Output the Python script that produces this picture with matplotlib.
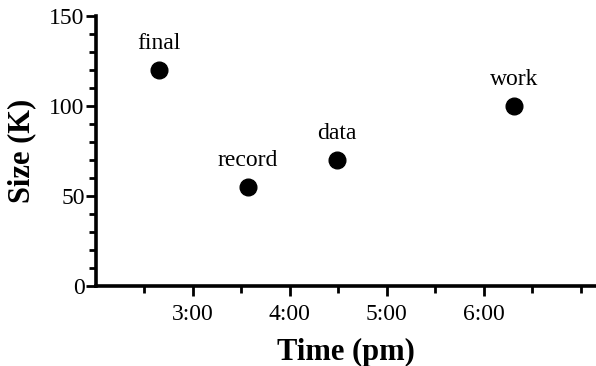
import matplotlib
matplotlib.use("Agg")
import matplotlib.pyplot as plt
from matplotlib.ticker import FixedLocator

names = ["final", "record", "data", "work"]
times_h = [2.65, 3.57, 4.49, 6.31]   # hours pm
sizes_k = [120, 55, 70, 100]
x_major = [3, 4, 5, 6]
x_major_labels = ["3:00", "4:00", "5:00", "6:00"]
x_minor = [2.5, 3.5, 4.5, 5.5, 6.5, 7.0]
y_major = [0, 50, 100, 150]
y_major_labels = ["0", "50", "100", "150"]
y_minor = [10, 20, 30, 40, 60, 70, 80, 90, 110, 120, 130, 140]

plt.rcParams['font.family'] = ['Liberation Serif', 'DejaVu Serif']

fig = plt.figure(figsize=(5.96, 3.66), dpi=100)
ax = fig.add_axes([95.7/596, 80/366, (596-95.7)/596, 270/366])

ax.plot(times_h, sizes_k, 'o', color='black', markersize=12, clip_on=False)
for n, t, s in zip(names, times_h, sizes_k):
    ax.annotate(n, (t, s), xytext=(0, 19), textcoords='offset points',
                ha='center', va='center', fontsize=17)

ax.set_xlim(2, 2 + 500.3/97)
ax.set_ylim(0, 150)
for sp in ['top', 'right']:
    ax.spines[sp].set_visible(False)
for sp in ['left', 'bottom']:
    ax.spines[sp].set_linewidth(2.6)

ax.xaxis.set_major_locator(FixedLocator(x_major))
ax.set_xticklabels(x_major_labels)
ax.xaxis.set_minor_locator(FixedLocator(x_minor))
ax.yaxis.set_major_locator(FixedLocator(y_major))
ax.set_yticklabels(y_major_labels)
ax.yaxis.set_minor_locator(FixedLocator(y_minor))

ax.tick_params(which='major', direction='out', length=7, width=2, labelsize=17, pad=6)
ax.tick_params(which='minor', direction='out', length=5, width=2)
ax.tick_params(axis='y', which='major', length=7, pad=1)

ax.set_xlabel("Time (pm)", fontsize=22, fontweight='bold', labelpad=9)
ax.set_ylabel("Size (K)", fontsize=22, fontweight='bold', labelpad=9)

fig.savefig("out.png", dpi=100)
